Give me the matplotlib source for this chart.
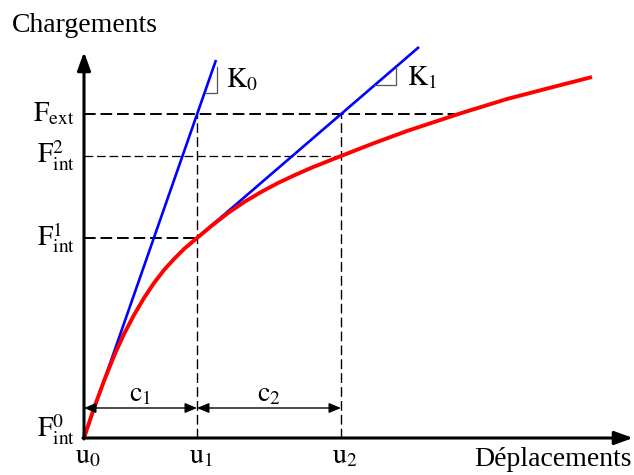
import numpy as np
import matplotlib.pyplot as plt

plt.rcParams['mathtext.fontset'] = 'stix'
plt.rcParams['font.family'] = 'Liberation Serif'

# positions (origine au point u0 / F0)
u_pos = [0, 113, 257]
u_noms = [r'$\mathrm{u}_0$', r'$\mathrm{u}_1$', r'$\mathrm{u}_2$']
F_niveaux = [0, 200, 282, 324]
F_noms = [r'$\mathrm{F}_{\mathrm{int}}^{0}$', r'$\mathrm{F}_{\mathrm{int}}^{1}$',
          r'$\mathrm{F}_{\mathrm{int}}^{2}$', r'$\mathrm{F}_{\mathrm{ext}}$']

# courbe reelle (rouge)
courbe_x = [0, 10, 20, 30, 40, 50, 60, 70, 80, 90, 100, 113, 128, 144, 161,
            178, 194, 211, 228, 257, 289, 323, 376, 423, 473, 508]
courbe_y = [0, 30, 57, 82, 104, 123, 140, 155, 168, 179, 189, 200, 212.5, 225,
            236.5, 246.5, 255, 263, 270.5, 282, 294.5, 307, 324.5, 339, 352, 361]

# tangentes K0 et K1
k0_x = [0, 132]
k0_y = [0, 378]
k1_x = [113, 335]
k1_y = [200, 391]

fig = plt.figure(figsize=(6.34, 4.75), dpi=100)
ax = fig.add_axes([0, 0, 1, 1])
ax.set_xlim(-84, 550)
ax.set_ylim(-37, 438)
ax.axis('off')

# lignes pointillees
ax.plot([0, 376], [F_niveaux[3]] * 2, color='k', lw=1.4, dashes=(6, 2.5))
ax.plot([0, u_pos[2]], [F_niveaux[2]] * 2, color='k', lw=0.9, dashes=(7, 3))
ax.plot([0, u_pos[1]], [F_niveaux[1]] * 2, color='k', lw=1.4, dashes=(6, 2.5))
ax.plot([u_pos[1]] * 2, [0, F_niveaux[3]], color='k', lw=1.0, dashes=(7, 3))
ax.plot([u_pos[2]] * 2, [0, F_niveaux[3]], color='k', lw=1.0, dashes=(7, 3))

# tangentes et courbe
ax.plot(k0_x, k0_y, color='#0000ff', lw=1.9, solid_capstyle='butt')
ax.plot(k1_x, k1_y, color='#0000ff', lw=1.9, solid_capstyle='butt')
ax.plot(courbe_x, courbe_y, color='#ff0000', lw=2.8, solid_capstyle='butt',
        solid_joinstyle='round')

# petits triangles de pente
ax.plot([121, 133, 133], [345, 345, 371], color='#555555', lw=0.9)
ax.plot([290, 312, 312], [353, 353, 371], color='#555555', lw=0.9)
ax.text(142, 358, r'$\mathrm{K}_0$', fontsize=20, va='center', ha='left')
ax.text(323, 360, r'$\mathrm{K}_1$', fontsize=20, va='center', ha='left')

# axes avec fleches
fleche = dict(arrowstyle='-|>,head_length=0.55,head_width=0.2', color='k',
              lw=2.2, shrinkA=0, shrinkB=0, mutation_scale=20)
ax.annotate('', xy=(0, 386), xytext=(0, -1), arrowprops=fleche)
ax.annotate('', xy=(549, 0), xytext=(-1, 0), arrowprops=fleche)

# cotes c1, c2
cote = dict(arrowstyle='<|-|>,head_length=0.6,head_width=0.25', color='k',
            lw=1.0, shrinkA=0, shrinkB=0, mutation_scale=12)
ax.annotate('', xy=(u_pos[1], 30), xytext=(u_pos[0], 30), arrowprops=cote)
ax.annotate('', xy=(u_pos[2], 30), xytext=(u_pos[1], 30), arrowprops=cote)
ax.text((u_pos[0] + u_pos[1]) / 2, 43, r'$\mathrm{c}_1$', fontsize=20, ha='center', va='center')
ax.text((u_pos[1] + u_pos[2]) / 2, 43, r'$\mathrm{c}_2$', fontsize=20, ha='center', va='center')

# etiquettes
for u, nom in zip(u_pos, u_noms):
    ax.text(u + 4, -19, nom, fontsize=20, ha='center', va='center')
decal = [8, 0, 0, 0]
for F, nom, d in zip(F_niveaux, F_noms, decal):
    ax.text(-9, F + d, nom, fontsize=20, ha='right', va='center')

ax.text(-72, 413, 'Chargements', fontsize=20, ha='left', va='center')
ax.text(548, -22, 'Déplacements', fontsize=20, ha='right', va='center')

fig.savefig('out.png', dpi=100)
